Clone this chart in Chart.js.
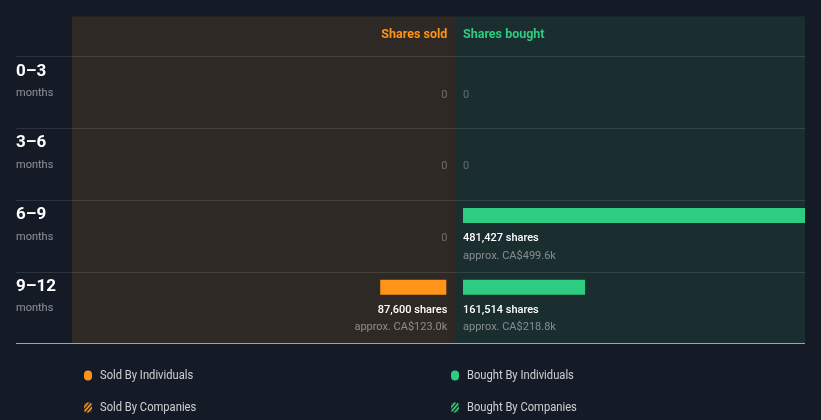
<!DOCTYPE html>
<html><head><meta charset="utf-8">
<script src="https://cdn.jsdelivr.net/npm/chart.js@4.4.1/dist/chart.umd.min.js"></script>
<style>html,body{margin:0;padding:0;background:#151b26;overflow:hidden}canvas{display:block}</style>
</head><body>
<canvas id="c" width="821" height="420"></canvas>
<script>
// ---- data ----
const periods = ['0–3', '3–6', '6–9', '9–12'];
const periodUnit = 'months';
const sharesSold = [0, 0, 0, 87600];
const sharesBought = [0, 0, 481427, 161514];
const valueSold = [null, null, null, 'CA$123.0k'];
const valueBought = [null, null, 'CA$499.6k', 'CA$218.8k'];
const headers = ['Shares sold', 'Shares bought'];
const legendLabels = ['Sold By Individuals', 'Bought By Individuals', 'Sold By Companies', 'Bought By Companies'];
const soldAxisRange = [-11500, 496000];
const boughtAxisRange = [-10600, 452500];

// ---- styles ----
const BG = '#151b26', SOLD_BG = '#2e2924', BOUGHT_BG = '#1a2d2f';
const ORANGE = '#ff9419', GREEN = '#2ecc80';
const FONT = 'Roboto, "Noto Sans", sans-serif';
const BAR_T = 15, BAR_PAD = 8, HEADER_H = 40, LABEL_X = 16;

const fmt = n => n.toLocaleString('en-US') + ' shares';

const tablePlugin = {
  id: 'table',
  geom(chart) {
    const ys = chart.scales.y, xs = chart.scales.xS, xb = chart.scales.xB;
    const band = (ys.bottom - ys.top) / periods.length;
    const rowTop = i => ys.getPixelForValue(i) - BAR_T / 2 - BAR_PAD;
    const top = rowTop(0) - HEADER_H;
    const bottom = rowTop(periods.length - 1) + band;
    return {ys, xs, xb, band, rowTop, top, bottom};
  },
  beforeDraw(chart) {
    const ctx = chart.ctx, g = this.geom(chart);
    ctx.save();
    ctx.fillStyle = BG; ctx.fillRect(0, 0, chart.width, chart.height);
    ctx.fillStyle = SOLD_BG; ctx.fillRect(g.xs.left, g.top, g.xs.right - g.xs.left, g.bottom - g.top);
    ctx.fillStyle = BOUGHT_BG; ctx.fillRect(g.xb.left, g.top, g.xb.right - g.xb.left, g.bottom - g.top);
    // row lines
    ctx.fillStyle = 'rgba(255,255,255,0.11)';
    periods.forEach((p, i) => ctx.fillRect(LABEL_X, Math.round(g.rowTop(i)), g.xb.right - LABEL_X, 1));
    ctx.fillStyle = 'rgba(200,212,218,0.75)';
    ctx.fillRect(LABEL_X, Math.round(g.bottom), g.xb.right - LABEL_X, 1);
    // headers
    ctx.font = 'bold 12.5px ' + FONT; ctx.textBaseline = 'middle';
    const s0 = g.xs.getPixelForValue(0), b0 = g.xb.getPixelForValue(0);
    ctx.fillStyle = ORANGE; ctx.textAlign = 'right'; ctx.fillText(headers[0], s0 + 1, g.top + 18);
    ctx.fillStyle = GREEN; ctx.textAlign = 'left'; ctx.fillText(headers[1], b0, g.top + 18);
    // period labels
    periods.forEach((p, i) => {
      const t = g.rowTop(i);
      ctx.textAlign = 'left';
      ctx.fillStyle = '#ffffff'; ctx.font = 'bold 17px ' + FONT; ctx.fillText(p, LABEL_X, t + 15);
      ctx.fillStyle = 'rgba(255,255,255,0.5)'; ctx.font = '11px ' + FONT; ctx.fillText(periodUnit, LABEL_X, t + 37);
    });
    ctx.restore();
  },
  afterDatasetsDraw(chart) {
    const ctx = chart.ctx, g = this.geom(chart);
    const s0 = g.xs.getPixelForValue(0), b0 = g.xb.getPixelForValue(0);
    ctx.save(); ctx.textBaseline = 'middle';
    const side = (vals, money, x, align) => {
      ctx.textAlign = align;
      vals.forEach((v, i) => {
        const t = g.rowTop(i);
        if (!v) {
          ctx.font = '11px ' + FONT; ctx.fillStyle = 'rgba(255,255,255,0.3)';
          ctx.fillText('0', x, t + 38.5);
        } else {
          ctx.font = '500 11px ' + FONT; ctx.fillStyle = '#ffffff';
          ctx.fillText(fmt(v), x, t + 38.5);
          ctx.font = '11px ' + FONT; ctx.fillStyle = 'rgba(255,255,255,0.45)';
          ctx.fillText('approx. ' + money[i], x, t + 56);
        }
      });
    };
    side(sharesSold, valueSold, s0 + 1, 'right');
    side(sharesBought, valueBought, b0, 'left');
    // legend
    const cols = [88, 455], rows = [g.bottom + 32, g.bottom + 64];
    const colors = [ORANGE, GREEN];
    const rr = (x, y, w, h, r) => { ctx.beginPath(); ctx.roundRect(x, y, w, h, r); };
    legendLabels.forEach((lab, k) => {
      const c = k % 2, r = Math.floor(k / 2);
      const cx = cols[c], cy = rows[r];
      if (r === 0) {
        ctx.fillStyle = colors[c]; rr(cx - 4, cy - 5, 8, 10, 4); ctx.fill();
      } else {
        ctx.save(); rr(cx - 4, cy - 5, 8, 10, 3); ctx.clip();
        ctx.fillStyle = '#2a2a2a'; ctx.fillRect(cx - 4, cy - 5, 8, 10);
        ctx.strokeStyle = colors[c]; ctx.lineWidth = 1.6;
        for (let d = -12; d <= 12; d += 4) { ctx.beginPath(); ctx.moveTo(cx - 6 + d, cy + 7); ctx.lineTo(cx + 6 + d, cy - 7); ctx.stroke(); }
        ctx.restore();
      }
      ctx.save();
      ctx.font = '12.5px ' + FONT; ctx.fillStyle = 'rgba(255,255,255,0.78)'; ctx.textAlign = 'left';
      ctx.translate(cx + 12, cy); ctx.scale(0.895, 1); ctx.fillText(lab, 0, 0.5);
      ctx.restore();
    });
    ctx.restore();
  }
};

new Chart(document.getElementById('c'), {
  type: 'bar',
  data: {
    labels: periods,
    datasets: [
      {label: 'Shares sold', data: sharesSold.map(v => v || null), xAxisID: 'xS', yAxisID: 'y', backgroundColor: ORANGE, grouped: false, barThickness: BAR_T, clip: 0, inflateAmount: 0},
      {label: 'Shares bought', data: sharesBought.map(v => v || null), xAxisID: 'xB', yAxisID: 'y', backgroundColor: GREEN, grouped: false, barThickness: BAR_T, clip: 0, inflateAmount: 0}
    ]
  },
  options: {
    indexAxis: 'y',
    responsive: false,
    animation: false,
    layout: {padding: {left: 72, right: 16, top: 36, bottom: 97}},
    plugins: {legend: {display: false}, tooltip: {enabled: false}},
    scales: {
      xS: {type: 'linear', position: 'bottom', stack: 'x', stackWeight: 383, reverse: true, min: soldAxisRange[0], max: soldAxisRange[1], display: false},
      xB: {type: 'linear', position: 'bottom', stack: 'x', stackWeight: 350, min: boughtAxisRange[0], max: boughtAxisRange[1], display: false},
      y: {type: 'category', display: false, offset: true}
    }
  },
  plugins: [tablePlugin]
});
</script>
</body></html>
